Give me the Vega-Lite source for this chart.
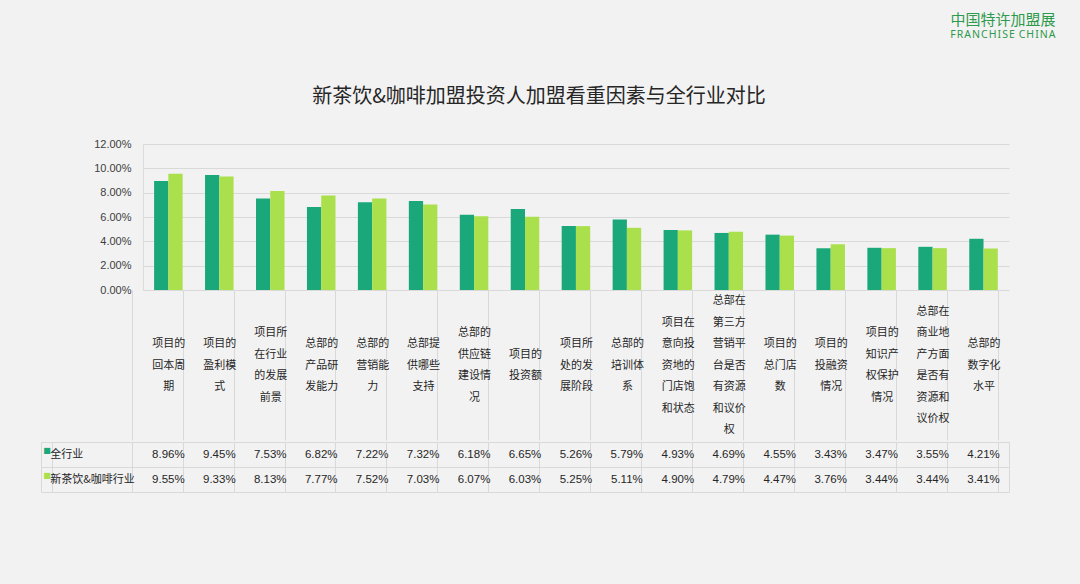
{
  "$schema": "https://vega.github.io/schema/vega-lite/v6.json",
  "background": "#f2f2f2",
  "padding": {"left": 40, "top": 12, "right": 24, "bottom": 94},
  "config": {
    "font": "Liberation Sans, Noto Sans CJK SC",
    "view": {"stroke": null}
  },
  "title": {
    "text": "中国特许加盟展",
    "subtitle": "F\u200aR\u200aA\u200aN\u200aC\u200aH\u200aI\u200aS\u200aE\u00a0\u200aC\u200aH\u200aI\u200aN\u200aA",
    "anchor": "end",
    "dx": 46,
    "fontSize": 15,
    "font": "Noto Sans CJK SC",
    "fontWeight": "normal",
    "color": "#2e9a4c",
    "subtitleFont": "Noto Sans",
    "subtitleColor": "#2e9a4c",
    "subtitleFontSize": 10.5,
    "subtitlePadding": 2,
    "offset": 47
  },
  "datasets": {
    "d": [
      {"cat": "项目的回本周期", "series": "全行业", "value": 0.0896},
      {"cat": "项目的回本周期", "series": "新茶饮&咖啡行业", "value": 0.0955},
      {"cat": "项目的盈利模式", "series": "全行业", "value": 0.0945},
      {"cat": "项目的盈利模式", "series": "新茶饮&咖啡行业", "value": 0.0933},
      {"cat": "项目所在行业的发展前景", "series": "全行业", "value": 0.0753},
      {"cat": "项目所在行业的发展前景", "series": "新茶饮&咖啡行业", "value": 0.0813},
      {"cat": "总部的产品研发能力", "series": "全行业", "value": 0.0682},
      {"cat": "总部的产品研发能力", "series": "新茶饮&咖啡行业", "value": 0.0777},
      {"cat": "总部的营销能力", "series": "全行业", "value": 0.0722},
      {"cat": "总部的营销能力", "series": "新茶饮&咖啡行业", "value": 0.0752},
      {"cat": "总部提供哪些支持", "series": "全行业", "value": 0.0732},
      {"cat": "总部提供哪些支持", "series": "新茶饮&咖啡行业", "value": 0.0703},
      {"cat": "总部的供应链建设情况", "series": "全行业", "value": 0.0618},
      {"cat": "总部的供应链建设情况", "series": "新茶饮&咖啡行业", "value": 0.0607},
      {"cat": "项目的投资额", "series": "全行业", "value": 0.0665},
      {"cat": "项目的投资额", "series": "新茶饮&咖啡行业", "value": 0.0603},
      {"cat": "项目所处的发展阶段", "series": "全行业", "value": 0.0526},
      {"cat": "项目所处的发展阶段", "series": "新茶饮&咖啡行业", "value": 0.0525},
      {"cat": "总部的培训体系", "series": "全行业", "value": 0.0579},
      {"cat": "总部的培训体系", "series": "新茶饮&咖啡行业", "value": 0.0511},
      {"cat": "项目在意向投资地的门店饱和状态", "series": "全行业", "value": 0.0493},
      {"cat": "项目在意向投资地的门店饱和状态", "series": "新茶饮&咖啡行业", "value": 0.0490},
      {"cat": "总部在第三方营销平台是否有资源和议价权", "series": "全行业", "value": 0.0469},
      {"cat": "总部在第三方营销平台是否有资源和议价权", "series": "新茶饮&咖啡行业", "value": 0.0479},
      {"cat": "项目的总门店数", "series": "全行业", "value": 0.0455},
      {"cat": "项目的总门店数", "series": "新茶饮&咖啡行业", "value": 0.0447},
      {"cat": "项目的投融资情况", "series": "全行业", "value": 0.0343},
      {"cat": "项目的投融资情况", "series": "新茶饮&咖啡行业", "value": 0.0376},
      {"cat": "项目的知识产权保护情况", "series": "全行业", "value": 0.0347},
      {"cat": "项目的知识产权保护情况", "series": "新茶饮&咖啡行业", "value": 0.0344},
      {"cat": "总部在商业地产方面是否有资源和议价权", "series": "全行业", "value": 0.0355},
      {"cat": "总部在商业地产方面是否有资源和议价权", "series": "新茶饮&咖啡行业", "value": 0.0344},
      {"cat": "总部的数字化水平", "series": "全行业", "value": 0.0421},
      {"cat": "总部的数字化水平", "series": "新茶饮&咖啡行业", "value": 0.0341}
    ]
  },
  "data": {"name": "d"},
  "spacing": 0,
  "vconcat": [
    {
      "width": 968,
      "height": 146,
      "title": {
        "text": "新茶饮&咖啡加盟投资人加盟看重因素与全行业对比",
        "anchor": "middle",
        "dx": 14,
        "fontSize": 20,
        "font": "Noto Sans CJK SC",
        "fontWeight": "normal",
        "color": "#262626",
        "offset": 31
      },
      "mark": {"type": "bar"},
      "encoding": {
        "x": {
          "field": "cat",
          "type": "nominal",
          "sort": null,
          "scale": {
            "domain": ["_a", "_b", "项目的回本周期", "项目的盈利模式", "项目所在行业的发展前景", "总部的产品研发能力", "总部的营销能力", "总部提供哪些支持", "总部的供应链建设情况", "项目的投资额", "项目所处的发展阶段", "总部的培训体系", "项目在意向投资地的门店饱和状态", "总部在第三方营销平台是否有资源和议价权", "项目的总门店数", "项目的投融资情况", "项目的知识产权保护情况", "总部在商业地产方面是否有资源和议价权", "总部的数字化水平"],
            "paddingInner": 0.44,
            "paddingOuter": 0.22
          },
          "axis": {
            "title": null,
            "domain": false,
            "tickBand": "extent",
            "tickSize": 150,
            "tickColor": {"condition": {"test": "!isString(datum.value) || datum.value === '_a'", "value": "transparent"}, "value": "#d9d9d9"},
            "labelAngle": 0,
            "labelAlign": "center",
            "labelBaseline": "middle",
            "labelPadding": {
              "condition": [
                {"test": "isString(datum.value) && length(datum.value) > 18", "value": -139.5},
                {"test": "isString(datum.value) && length(datum.value) > 15", "value": -128.75},
                {"test": "isString(datum.value) && length(datum.value) > 12", "value": -118},
                {"test": "isString(datum.value) && length(datum.value) > 9", "value": -107.25},
                {"test": "isString(datum.value) && length(datum.value) > 6", "value": -96.5}
              ],
              "value": -85.75
            },
            "labelFontSize": 11,
            "labelLineHeight": 21.5,
            "labelColor": "#262626",
            "labelFont": "Noto Sans CJK SC",
            "labelLimit": 0,
            "labelExpr": "isString(datum.value) && datum.value !== '_a' && datum.value !== '_b' ? split(replace(datum.value, regexp('(.{3})(?=.)', 'g'), '$1|'), '|') : ''"
          }
        },
        "xOffset": {
          "field": "series",
          "type": "nominal",
          "scale": {"domain": ["全行业", "新茶饮&咖啡行业"], "paddingInner": 0, "paddingOuter": 0}
        },
        "y": {
          "field": "value",
          "type": "quantitative",
          "scale": {"domain": [0, 0.12]},
          "axis": {
            "title": null,
            "offset": -101.9,
            "grid": false,
            "values": [0, 0.02, 0.04, 0.06, 0.08, 0.1, 0.12],
            "format": ".2%",
            "tickSize": -866.1,
            "tickColor": "#d9d9d9",
            "domainColor": "#d9d9d9",
            "labelPadding": 878,
            "labelFontSize": 11,
            "labelColor": "#404040"
          }
        },
        "color": {
          "field": "series",
          "type": "nominal",
          "scale": {"domain": ["全行业", "新茶饮&咖啡行业"], "range": ["#1aa87a", "#a9e04c"]},
          "legend": null
        }
      }
    },
    {
      "width": 968,
      "height": 50,
      "view": {"stroke": "#d9d9d9"},
      "encoding": {
        "x": {
          "field": "cat",
          "type": "nominal",
          "sort": null,
          "scale": {
            "domain": ["_a", "_b", "项目的回本周期", "项目的盈利模式", "项目所在行业的发展前景", "总部的产品研发能力", "总部的营销能力", "总部提供哪些支持", "总部的供应链建设情况", "项目的投资额", "项目所处的发展阶段", "总部的培训体系", "项目在意向投资地的门店饱和状态", "总部在第三方营销平台是否有资源和议价权", "项目的总门店数", "项目的投融资情况", "项目的知识产权保护情况", "总部在商业地产方面是否有资源和议价权", "总部的数字化水平"],
            "paddingInner": 0.44,
            "paddingOuter": 0.22
          },
          "axis": {
            "title": null,
            "orient": "top",
            "domain": false,
            "ticks": false,
            "labels": false,
            "grid": true,
            "tickBand": "extent",
            "gridColor": {"condition": {"test": "datum.value === '_a'", "value": "transparent"}, "value": "#d9d9d9"}
          }
        },
        "y": {
          "field": "series",
          "type": "nominal",
          "scale": {"domain": ["全行业", "新茶饮&咖啡行业"]},
          "axis": {
            "title": null,
            "domain": false,
            "ticks": false,
            "labels": false,
            "grid": true,
            "tickBand": "extent",
            "gridColor": "#d9d9d9"
          }
        }
      },
      "layer": [
        {
          "mark": {"type": "text", "fontSize": 11.5, "color": "#262626"},
          "encoding": {"text": {"field": "value", "type": "quantitative", "format": ".2%"}}
        },
        {
          "transform": [{"aggregate": [{"op": "count", "as": "n"}], "groupby": ["series"]}],
          "mark": {"type": "text", "align": "left", "dx": -2, "fontSize": 11, "color": "#262626", "font": "Noto Sans CJK SC"},
          "encoding": {
            "x": {"datum": "_a", "type": "nominal", "bandPosition": 0},
            "text": {"field": "series", "type": "nominal"}
          }
        },
        {
          "transform": [{"aggregate": [{"op": "count", "as": "n"}], "groupby": ["series"]}],
          "mark": {"type": "text", "align": "left", "dx": -9, "dy": -4, "fontSize": 8, "text": "■", "font": "DejaVu Sans"},
          "encoding": {
            "x": {"datum": "_a", "type": "nominal", "bandPosition": 0},
            "color": {
              "field": "series",
              "type": "nominal",
              "scale": {"domain": ["全行业", "新茶饮&咖啡行业"], "range": ["#1aa87a", "#a9e04c"]},
              "legend": null
            }
          }
        }
      ]
    }
  ]
}
